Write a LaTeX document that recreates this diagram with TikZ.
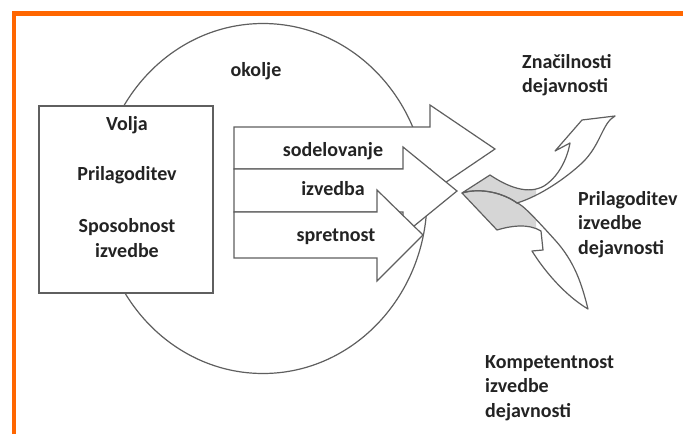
\documentclass[tikz,border=0pt]{standalone}
\usepackage{fontspec}
\setmainfont{Carlito}
\definecolor{frameorange}{RGB}{255,102,0}
\definecolor{linegray}{RGB}{95,95,95}
\definecolor{txtgray}{RGB}{35,35,35}
\definecolor{shadegray}{RGB}{214,214,214}
\begin{document}
\begin{tikzpicture}[x=1pt,y=-1pt,
  outline/.style={draw=linegray,line width=1.2pt,line join=miter},
  blockarrow/.style={outline,fill=white},
  lbl/.style={text=txtgray,font=\fontsize{20}{24.5}\selectfont\bfseries,inner sep=0pt},
  lblleft/.style={lbl,align=left,anchor=north west},
  frameline/.style={draw=frameorange,line width=4.5pt,line join=miter}]
\useasboundingbox (0,0) rectangle (683,434);
\fill[white] (0,0) rectangle (683,434);
% orange frame
\draw[frameline] (14,434) -- (14,13.5) -- (683,13.5);
% environment circle
\draw[outline] (263,198.5) ellipse [x radius=164, y radius=175];
% box
\node[outline,fill=white,minimum width=174pt,minimum height=187pt,inner sep=0pt] (box) at (126,199.5) {};
\node[lbl] (volja) at (127,125) {Volja};
\node[lbl] (prilag) at (127,175) {Prilagoditev};
\node[lbl,align=center] (sposob) at (127,238) {Sposobnost\\izvedbe};
\node[lbl] (okolje) at (256,71) {okolje};
% three block arrows
\draw[blockarrow] (234,127) -- (430,127) -- (430,105) -- (495,149) -- (430,193) -- (430,169) -- (234,169) -- cycle;
\draw[blockarrow] (234,169) -- (403,169) -- (403,147) -- (457,191) -- (403,235) -- (403,212) -- (234,212) -- cycle;
\draw[blockarrow] (234,212) -- (377,212) -- (377,190) -- (423,235) -- (377,281) -- (377,258) -- (234,258) -- cycle;
\node[lbl] (sodel) at (333,151) {sodelovanje};
\node[lbl] (izvedba) at (333,189) {izvedba};
\node[lbl] (spret) at (336,237) {spretnost};
% twisted arrows
\path[save path=\upperarrow] (462,193) -- (490,175)
  .. controls (508,187) and (528,195) .. (544,186)
  .. controls (558,177) and (567,160) .. (570,143)
  -- (555,151) -- (582,120) -- (615,116)
  .. controls (602,123) and (601,145) .. (582,163)
  .. controls (566,178) and (540,196) .. (517,203)
  .. controls (505,194) and (482,187) .. (462,193) -- cycle;
\path[save path=\lowerarrow] (462,193) -- (497,230)
  .. controls (510,226) and (528,223) .. (541,231)
  -- (543,250) -- (532,251)
  .. controls (545,272) and (566,296) .. (588,309)
  .. controls (582,285) and (575,262) .. (555,240)
  .. controls (536,219) and (522,204) .. (517,203)
  .. controls (505,194) and (482,187) .. (462,193) -- cycle;
\fill[white,use path=\upperarrow];
\fill[white,use path=\lowerarrow];
\begin{scope}
  \clip (400,150) rectangle (536,240);
  \fill[shadegray,use path=\upperarrow];
  \fill[shadegray,use path=\lowerarrow];
\end{scope}
\draw[outline,line join=round,use path=\upperarrow];
\draw[outline,line join=round,use path=\lowerarrow];
% right-hand labels
\node[lblleft] (znac) at (522,54) {Značilnosti\\dejavnosti};
\node[lblleft] (prilagdej) at (578,191) {Prilagoditev\\izvedbe\\dejavnosti};
\node[lblleft] (komp) at (485,355) {Kompetentnost\\izvedbe\\dejavnosti};
\end{tikzpicture}
\end{document}
